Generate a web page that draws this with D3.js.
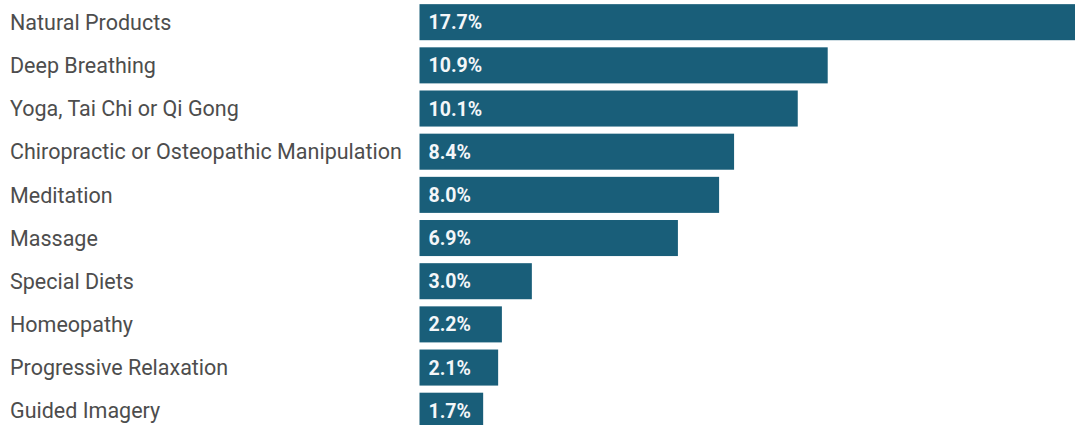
<!DOCTYPE html>
<html>
<head>
<meta charset="utf-8">
<script src="https://cdn.jsdelivr.net/npm/d3@7"></script>
<style>
  html, body { margin: 0; padding: 0; background: #fff; overflow: hidden; }
  svg { display: block; }
</style>
</head>
<body>
<svg id="chart" width="1075" height="425"></svg>
<script>
// data
const categories = [
    "Natural Products",
    "Deep Breathing",
    "Yoga, Tai Chi or Qi Gong",
    "Chiropractic or Osteopathic Manipulation",
    "Meditation",
    "Massage",
    "Special Diets",
    "Homeopathy",
    "Progressive Relaxation",
    "Guided Imagery"
];
const values = [17.7, 10.9, 10.1, 8.4, 8.0, 6.9, 3.0, 2.2, 2.1, 1.7];

const svg = d3.select("#chart");

// bars start at ~419px, about 37.45px per percent (top bar runs off the edge)
const x = d3.scaleLinear()
    .domain([0, 20])
    .range([419.5, 419.5 + 749]);

const y = d3.scaleBand()
    .domain(categories)
    .range([0.7, 0.7 + 43.15 * categories.length])
    .paddingInner(0.165)
    .paddingOuter(0.08);

const rows = categories.map((c, i) => ({ label: c, value: values[i] }));

// category labels
svg.selectAll("text.label")
    .data(rows)
    .enter()
    .append("text")
    .attr("class", "label")
    .attr("x", 10)
    .attr("y", d => y(d.label) + y.bandwidth() / 2)
    .attr("dy", "0.36em")
    .attr("font-family", "Roboto, sans-serif")
    .attr("font-size", "21.5px")
    .attr("fill", "#4d4d4d")
    .text(d => d.label);

// bars
svg.selectAll("rect.bar")
    .data(rows)
    .enter()
    .append("rect")
    .attr("class", "bar")
    .attr("x", x(0))
    .attr("y", d => y(d.label))
    .attr("width", d => x(d.value) - x(0))
    .attr("height", y.bandwidth())
    .attr("fill", "#195e79");

// value labels inside bars
svg.selectAll("text.value")
    .data(rows)
    .enter()
    .append("text")
    .attr("class", "value")
    .attr("x", x(0) + 9)
    .attr("y", d => y(d.label) + y.bandwidth() / 2)
    .attr("dy", "0.36em")
    .attr("font-family", "Roboto, sans-serif")
    .attr("font-weight", "bold")
    .attr("font-size", "19.5px")
    .attr("fill", "#f4f7f9")
    .text(d => d.value.toFixed(1) + "%");
</script>
</body>
</html>
